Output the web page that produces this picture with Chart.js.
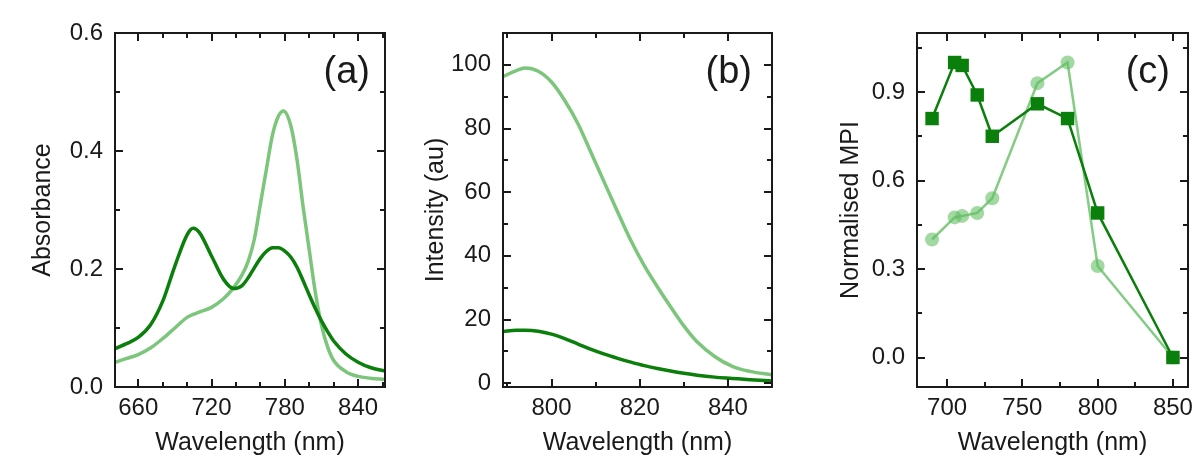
<!DOCTYPE html>
<html>
<head>
<meta charset="utf-8">
<script src="https://cdn.jsdelivr.net/npm/chart.js@4.4.1/dist/chart.umd.min.js"></script>
<style>
  body { margin: 0; background: #fff; width: 1198px; height: 459px; position: relative; overflow: hidden; }
  .panel { position: absolute; top: 0; height: 459px; }
</style>
</head>
<body>
<div class="panel" style="left:0;width:400px"><canvas id="chartA"></canvas></div>
<div class="panel" style="left:400px;width:400px"><canvas id="chartB"></canvas></div>
<div class="panel" style="left:800px;width:398px"><canvas id="chartC"></canvas></div>
<script>
// (a) absorbance spectra
const wavelengthA = [641, 650, 660, 670, 680, 690, 700, 705, 710, 720, 730, 738, 745, 750, 755, 760, 765, 770, 775, 779, 785, 790, 795, 800, 805, 810, 815, 820, 830, 840, 850, 862];
const absorbanceDark = [0.065, 0.073, 0.084, 0.105, 0.145, 0.205, 0.258, 0.269, 0.262, 0.222, 0.182, 0.167, 0.172, 0.185, 0.202, 0.218, 0.230, 0.236, 0.236, 0.232, 0.220, 0.203, 0.180, 0.156, 0.133, 0.112, 0.094, 0.078, 0.056, 0.042, 0.033, 0.027];
const absorbanceLight = [0.042, 0.048, 0.055, 0.066, 0.082, 0.100, 0.118, 0.123, 0.127, 0.135, 0.150, 0.168, 0.190, 0.213, 0.250, 0.310, 0.370, 0.428, 0.460, 0.468, 0.442, 0.385, 0.305, 0.232, 0.160, 0.105, 0.068, 0.045, 0.026, 0.018, 0.015, 0.013];

// (b) emission spectra
const wavelengthB = [789, 792, 794, 797, 800, 803, 806, 809, 812, 815, 818, 821, 824, 827, 830, 833, 837, 841, 845, 850];
const intensityLight = [96.3, 98.2, 99, 98.0, 94.6, 88.8, 81.5, 72.3, 63, 53.8, 44.8, 37, 30.3, 24, 18, 13, 8.4, 5.3, 3.7, 2.6];
const intensityDark = [16.2, 16.6, 16.6, 16.3, 15.4, 14, 12.3, 10.6, 9.1, 7.8, 6.6, 5.5, 4.6, 3.8, 3.1, 2.5, 1.9, 1.5, 1.1, 0.7];

// (c) normalised MPI
const wavelengthC = [690, 705, 710, 720, 730, 760, 780, 800, 850];
const mpiDark = [0.81, 1.0, 0.99, 0.89, 0.75, 0.86, 0.81, 0.49, 0.0];
const mpiLight = [0.40, 0.475, 0.48, 0.49, 0.54, 0.93, 1.0, 0.31, 0.0];

// tick positions (labelled ones + minor ones)
const ticksXA = [660, 680, 700, 720, 740, 760, 780, 800, 820, 840, 860];
const labelsXA = [660, 720, 780, 840];
const ticksYA = [0, 0.1, 0.2, 0.3, 0.4, 0.5, 0.6];
const labelsYA = ['0.0', '0.2', '0.4', '0.6'];
const ticksXB = [790, 800, 810, 820, 830, 840, 850];
const labelsXB = [800, 820, 840];
const ticksYB = [0, 10, 20, 30, 40, 50, 60, 70, 80, 90, 100, 110];
const labelsYB = ['0', '20', '40', '60', '80', '100'];
const ticksXC = [700, 725, 750, 775, 800, 825, 850];
const labelsXC = [700, 750, 800, 850];
const ticksYC = [0, 0.15, 0.3, 0.45, 0.6, 0.75, 0.9, 1.05];
const labelsYC = ['0.0', '0.3', '0.6', '0.9'];

const DARK = '#0b7f0b';
const LIGHT = '#7cc67c';
const INK = '#1a1a1a';
const FONT = "'Liberation Sans', Arial, sans-serif";

const pts = (xs, ys) => xs.map((x, i) => ({ x: x, y: ys[i] }));
const fmt = (v, labels) => labels.find(l => Math.abs(Number(l) - v) < 1e-6);

// box round the plot area with inward ticks on all four sides, plus the panel letter
const frameTicks = {
  id: 'frameTicks',
  afterDraw(chart, args, opts) {
    const { ctx, chartArea: a } = chart;
    const sx = chart.scales.x, sy = chart.scales.y;
    ctx.save();
    ctx.strokeStyle = INK;
    ctx.lineWidth = 2;
    ctx.beginPath();
    sx.ticks.forEach(t => {
      const px = Math.round(sx.getPixelForValue(t.value));
      if (px < a.left + 2 || px > a.right - 2) return;
      const len = t.label ? 8 : 5;
      ctx.moveTo(px, a.bottom); ctx.lineTo(px, a.bottom - len);
      ctx.moveTo(px, a.top); ctx.lineTo(px, a.top + len);
    });
    sy.ticks.forEach(t => {
      const py = Math.round(sy.getPixelForValue(t.value));
      if (py < a.top + 2 || py > a.bottom - 2) return;
      const len = t.label ? 8 : 5;
      ctx.moveTo(a.left, py); ctx.lineTo(a.left + len, py);
      ctx.moveTo(a.right, py); ctx.lineTo(a.right - len, py);
    });
    ctx.stroke();
    ctx.strokeRect(a.left, a.top, a.right - a.left, a.bottom - a.top);
    ctx.fillStyle = INK;
    ctx.font = '38px ' + FONT;
    ctx.textAlign = 'right';
    ctx.textBaseline = 'middle';
    ctx.fillText(opts.label, a.right - opts.gap, 73);
    ctx.restore();
  }
};

function makeConfig(p) {
  return {
    type: 'scatter',
    data: { datasets: p.datasets },
    options: {
      responsive: true,
      maintainAspectRatio: false,
      animation: false,
      layout: { padding: { top: 33, right: p.right, left: 0, bottom: 0 } },
      plugins: {
        legend: { display: false },
        tooltip: { enabled: false },
        frameTicks: { label: p.label, gap: p.gap }
      },
      scales: {
        x: {
          type: 'linear',
          min: p.xMin,
          max: p.xMax,
          grid: { display: false },
          border: { display: false },
          afterBuildTicks(s) { s.ticks = p.xTicks.map(v => ({ value: v })); },
          ticks: {
            autoSkip: false,
            maxRotation: 0,
            padding: -1,
            color: INK,
            font: { size: 24, family: FONT },
            callback: v => { const l = fmt(v, p.xLabels); return l === undefined ? '' : String(l); }
          },
          title: {
            display: true,
            text: 'Wavelength (nm)',
            color: INK,
            font: { size: 25, family: FONT },
            padding: { top: 0, bottom: 1 }
          },
          afterFit(s) { s.height = 72; }
        },
        y: {
          type: 'linear',
          min: p.yMin,
          max: p.yMax,
          grid: { display: false },
          border: { display: false },
          afterBuildTicks(s) { s.ticks = p.yTicks.map(v => ({ value: v })); },
          ticks: {
            autoSkip: false,
            padding: 4,
            color: INK,
            font: { size: 24, family: FONT },
            callback: v => { const l = fmt(v, p.yLabels); return l === undefined ? '' : l; }
          },
          title: {
            display: true,
            text: p.yTitle,
            color: INK,
            font: { size: 25, family: FONT },
            padding: { top: p.titlePad, bottom: 0 }
          },
          afterFit(s) { s.width = p.yWidth; }
        }
      }
    },
    plugins: [frameTicks]
  };
}

function curve(xs, ys, color) {
  return {
    data: pts(xs, ys),
    showLine: true,
    borderColor: color,
    borderWidth: 3.5,
    pointRadius: 0,
    cubicInterpolationMode: 'monotone'
  };
}

new Chart(document.getElementById('chartA'), makeConfig({
  label: '(a)', gap: 15, right: 15, yWidth: 115, titlePad: 28,
  xMin: 641, xMax: 862, xTicks: ticksXA, xLabels: labelsXA,
  yMin: 0, yMax: 0.6, yTicks: ticksYA, yLabels: labelsYA,
  yTitle: 'Absorbance',
  datasets: [curve(wavelengthA, absorbanceDark, DARK), curve(wavelengthA, absorbanceLight, LIGHT)]
}));

new Chart(document.getElementById('chartB'), makeConfig({
  label: '(b)', gap: 20, right: 28, yWidth: 103, titlePad: 21,
  xMin: 789, xMax: 850, xTicks: ticksXB, xLabels: labelsXB,
  yMin: -1.2, yMax: 110, yTicks: ticksYB, yLabels: labelsYB,
  yTitle: 'Intensity (au)',
  datasets: [curve(wavelengthB, intensityDark, DARK), curve(wavelengthB, intensityLight, LIGHT)]
}));

new Chart(document.getElementById('chartC'), makeConfig({
  label: '(c)', gap: 18, right: 10, yWidth: 117, titlePad: 36,
  xMin: 680, xMax: 860, xTicks: ticksXC, xLabels: labelsXC,
  yMin: -0.1, yMax: 1.1, yTicks: ticksYC, yLabels: labelsYC,
  yTitle: 'Normalised MPI',
  datasets: [
    {
      data: pts(wavelengthC, mpiDark),
      showLine: true,
      borderColor: DARK,
      backgroundColor: DARK,
      borderWidth: 2.5,
      pointStyle: 'rect',
      pointRadius: 9.5,
      pointBorderWidth: 0,
      pointBackgroundColor: DARK
    },
    {
      data: pts(wavelengthC, mpiLight),
      showLine: true,
      borderColor: 'rgba(110,195,110,0.85)',
      borderWidth: 2.5,
      pointStyle: 'circle',
      pointRadius: 7,
      pointBorderWidth: 0,
      pointBackgroundColor: 'rgba(100,190,100,0.6)'
    }
  ]
}));
</script>
</body>
</html>
